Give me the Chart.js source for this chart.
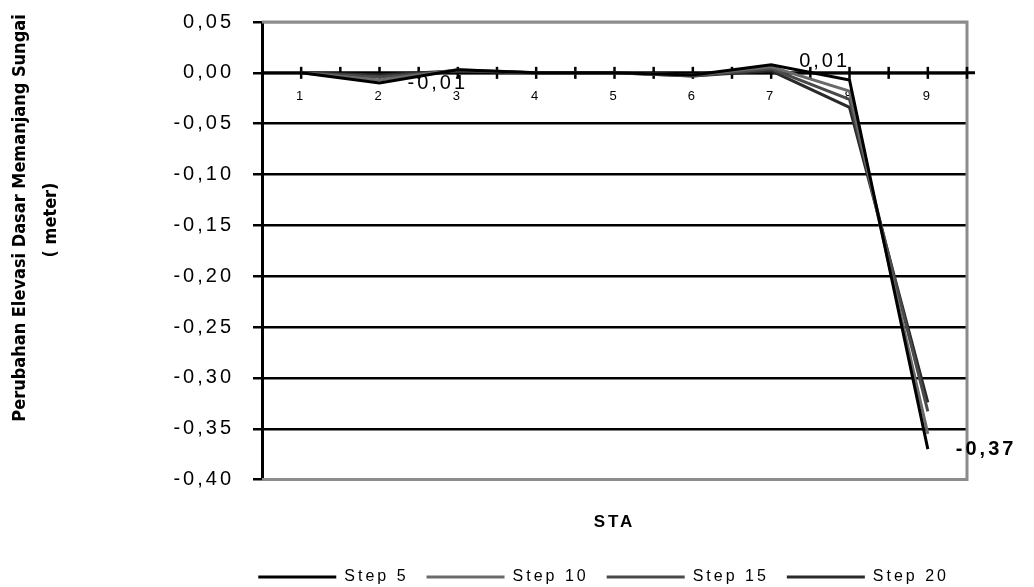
<!DOCTYPE html>
<html>
<head>
<meta charset="utf-8">
<script src="https://cdn.jsdelivr.net/npm/chart.js@4.4.1/dist/chart.umd.min.js"></script>
<style>
  body { margin: 0; background: #fff; }
  #wrap { width: 1034px; height: 587px; }
</style>
</head>
<body>
<div id="wrap"><canvas id="chart" width="1034" height="587"></canvas></div>
<script>
const categories = ["1", "2", "3", "4", "5", "6", "7", "8", "9"];
const step5 = [0, -0.010, 0.003, 0, 0, -0.002, 0.008, -0.007, -0.370];
const step10 = [0, -0.007, 0.003, 0, 0, -0.002, 0.006, -0.018, -0.355];
const step15 = [0, -0.004, 0.002, 0, 0, -0.003, 0.004, -0.026, -0.333];
const step20 = [0, -0.002, 0.002, 0, 0, -0.003, 0.002, -0.034, -0.324];
const seriesNames = ["Step 5", "Step 10", "Step 15", "Step 20"];
const seriesColors = ["#000000", "#6a6a6a", "#4a4a4a", "#2a2a2a"];
const yTicks = [0.05, 0, -0.05, -0.10, -0.15, -0.20, -0.25, -0.30, -0.35, -0.40];
// points of Step 5 that carry a value label
const labelPoints = [1, 6, 8];

const FONT = '"Liberation Sans", Arial, sans-serif';

// Indonesian decimal comma: -0,05
function fmt(v) {
  if (Math.abs(v) < 1e-9) return "0,00";
  return v.toFixed(2).replace(".", ",");
}

const spacing = {
  id: "spacing",
  beforeUpdate(chart) { chart.ctx.letterSpacing = "3px"; },
  beforeDraw(chart) { chart.ctx.letterSpacing = "3px"; }
};

// plot frame, zero axis and its tick marks
const frame = {
  id: "frame",
  beforeDatasetsDraw(chart) {
    const { ctx, chartArea: a, scales } = chart;
    ctx.save();
    ctx.strokeStyle = "#8c8c8c";
    ctx.lineWidth = 3;
    ctx.beginPath();
    ctx.moveTo(a.left, a.top);
    ctx.lineTo(a.right, a.top);
    ctx.lineTo(a.right, a.bottom);
    ctx.lineTo(a.left, a.bottom);
    ctx.stroke();

    const y0 = scales.y.getPixelForValue(0);
    ctx.strokeStyle = "#000";
    ctx.beginPath();
    ctx.moveTo(a.left, y0);
    ctx.lineTo(a.right + 8, y0);
    ctx.stroke();

    const x = scales.x;
    const half = (x.getPixelForValue(1) - x.getPixelForValue(0)) / 2;
    ctx.lineWidth = 2.5;
    categories.forEach((c, i) => {
      const px = x.getPixelForValue(i);
      [px, px + half].forEach((t) => {
        ctx.beginPath();
        ctx.moveTo(t, y0 - 6);
        ctx.lineTo(t, y0 + 6);
        ctx.stroke();
      });
    });
    ctx.restore();
  }
};

const valueLabels = {
  id: "valueLabels",
  afterDatasetsDraw(chart) {
    const ctx = chart.ctx;
    const meta = chart.getDatasetMeta(0);
    ctx.save();
    ctx.fillStyle = "#000";
    ctx.textBaseline = "middle";
    ctx.textAlign = "left";
    labelPoints.forEach((i) => {
      const pt = meta.data[i];
      ctx.font = (i === 8 ? "bold " : "") + "20px " + FONT;
      ctx.fillText(fmt(step5[i]), pt.x + 28, pt.y - (i === 6 ? 3 : 0));
    });
    ctx.restore();
  }
};

function drawVertical(ctx, text, x, y) {
  ctx.save();
  ctx.letterSpacing = "0px";
  ctx.fillStyle = "#000";
  ctx.textAlign = "center";
  ctx.textBaseline = "middle";
  ctx.font = 'bold 18px "Liberation Sans Narrow", "DejaVu Sans Condensed", sans-serif';
  ctx.translate(x, y);
  ctx.rotate(-Math.PI / 2);
  ctx.fillText(text, 0, 0);
  ctx.restore();
}

const yTitle = {
  id: "yTitle",
  afterDraw(chart) {
    drawVertical(chart.ctx, "Perubahan Elevasi Dasar Memanjang Sungai", 20, 218);
    drawVertical(chart.ctx, "( meter)", 51, 220);
  }
};

const datasets = [step5, step10, step15, step20].map((vals, k) => ({
  label: seriesNames[k],
  data: vals,
  borderColor: seriesColors[k],
  backgroundColor: seriesColors[k],
  borderWidth: 3,
  pointRadius: 0,
  tension: 0,
  xAxisID: "x",
  yAxisID: "y"
}));

new Chart(document.getElementById("chart"), {
  type: "line",
  data: { labels: categories, datasets: datasets },
  options: {
    responsive: false,
    animation: false,
    devicePixelRatio: 1,
    layout: { padding: { left: 0, top: 22, right: 67, bottom: -8 } },
    scales: {
      x: {
        type: "category",
        position: { y: 0 },
        offset: true,
        grid: { display: false, drawTicks: false },
        border: { display: false },
        ticks: { padding: 16, color: "#000", font: { size: 13, family: FONT }, maxRotation: 0 }
      },
      x2: {
        type: "category",
        position: "bottom",
        offset: true,
        grid: { display: false, drawTicks: false },
        border: { display: false },
        ticks: { display: false },
        title: {
          display: true,
          text: "STA",
          color: "#000",
          font: { size: 17, weight: "bold", family: FONT },
          padding: { top: 33, bottom: 18 }
        }
      },
      y: {
        min: -0.4,
        max: 0.05,
        afterBuildTicks: (s) => { s.ticks = yTicks.map((v) => ({ value: v })); },
        afterFit: (s) => {
          s.width = 262;
          s.paddingTop = 0;
          s.paddingBottom = 0;
        },
        grid: {
          color: (c) => (c.tick && (c.tick.value === 0.05 || c.tick.value === -0.4) ? "#8c8c8c" : "#000"),
          lineWidth: 2.5,
          tickColor: "#000",
          tickLength: 9
        },
        border: { color: "#000", width: 3 },
        ticks: {
          padding: 19,
          color: "#000",
          font: { size: 20, family: FONT },
          callback: (v) => fmt(v)
        }
      }
    },
    plugins: {
      legend: {
        position: "bottom",
        align: "end",
        labels: {
          boxWidth: 78,
          boxHeight: 3,
          padding: 18,
          color: "#000",
          font: { size: 16, family: FONT },
          generateLabels: (chart) =>
            Chart.defaults.plugins.legend.labels.generateLabels(chart).map((l) => ({ ...l, lineWidth: 0 }))
        }
      },
      tooltip: { enabled: false }
    }
  },
  plugins: [spacing, frame, valueLabels, yTitle]
});
</script>
</body>
</html>
